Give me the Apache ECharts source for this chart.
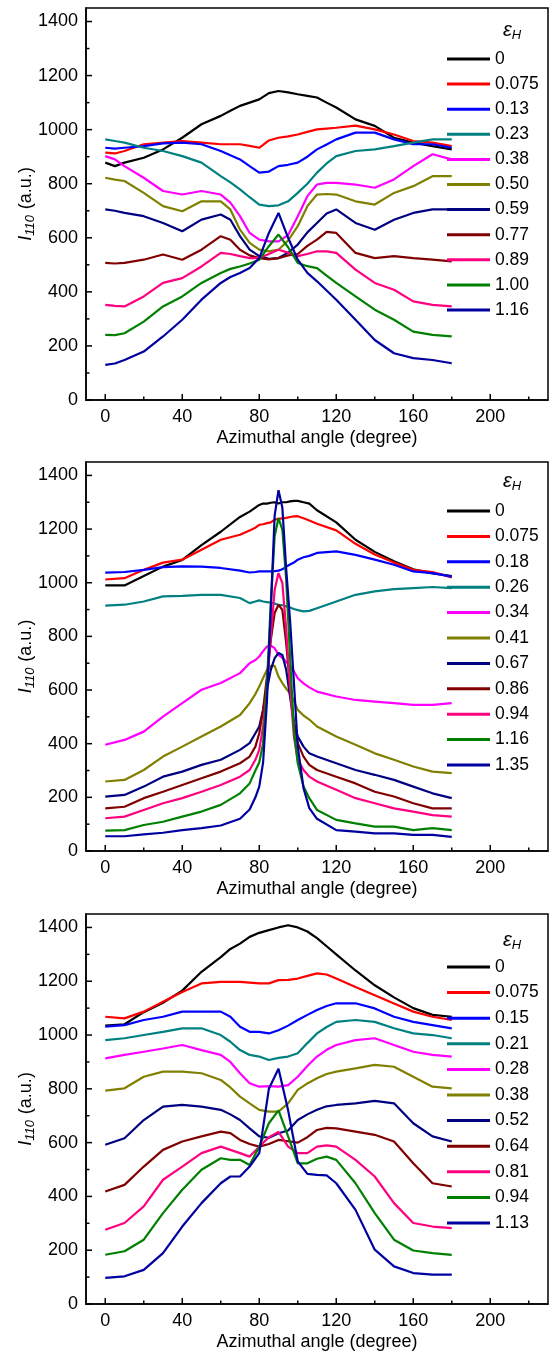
<!DOCTYPE html>
<html><head><meta charset="utf-8">
<script src="https://cdn.jsdelivr.net/npm/echarts@6/dist/echarts.min.js"></script>
<style>html,body{margin:0;padding:0;background:#fff}#c{width:549px;height:1353px}</style>
</head><body><div id="c"></div>
<script>
// ---- tick labels ----
const xTicks = [0, 40, 80, 120, 160, 200];
const xMinor = [20, 60, 100, 140, 180, 220];
const yTicks = [0, 200, 400, 600, 800, 1000, 1200, 1400];
const yMinor = [100, 300, 500, 700, 900, 1100, 1300];
const xName = 'Azimuthal angle (degree)';
const colors = ['#000000','#ff0000','#0000ff','#008080','#ff00ff','#808000','#000080','#800000','#ff0080','#008000','#0000a0'];

// ---- panel 1 ----
const labels1 = ['0','0.075','0.13','0.23','0.38','0.50','0.59','0.77','0.89','1.00','1.16'];
const angles1 = [0,5,10,20,30,40,50,60,65,70,75,80,85,90,95,100,105,110,115,120,130,140,150,160,170,180];
const p1_0    = [878,865,878,896,927,970,1020,1051,1070,1088,1100,1112,1135,1143,1138,1131,1125,1119,1100,1082,1038,1014,970,952,939,927];
const p1_075  = [915,912,921,946,952,958,952,946,946,946,940,933,960,970,975,982,992,1001,1004,1007,1015,1001,982,958,952,939];
const p1_13   = [933,930,933,939,949,952,946,921,905,890,865,841,845,865,870,878,900,927,945,964,989,989,964,946,946,933];
const p1_23   = [964,958,952,933,921,902,878,828,805,779,750,723,717,720,735,766,800,841,875,902,921,927,939,952,964,964];
const p1_38   = [902,890,865,822,773,760,773,760,730,680,618,593,587,587,610,680,754,797,803,803,797,785,816,865,909,890];
const p1_50   = [822,815,810,766,717,698,735,735,705,630,581,556,550,556,590,643,717,760,762,760,735,723,766,791,828,828];
const p1_59   = [705,700,692,680,655,624,667,686,667,606,556,532,522,525,545,575,620,655,690,705,655,630,667,692,705,705];
const p1_77   = [507,505,507,519,538,519,556,606,593,556,535,525,520,525,535,540,570,593,622,618,544,525,532,525,519,513];
const p1_89   = [352,348,346,383,433,451,494,544,540,532,525,525,540,556,545,532,540,550,550,544,482,433,408,365,352,346];
const p1_100  = [241,240,247,290,346,383,433,470,485,494,505,519,569,612,565,507,495,488,460,433,383,334,297,253,241,235];
const p1_116  = [130,135,148,179,235,297,371,433,455,470,488,525,618,692,600,519,470,439,405,371,297,222,173,155,148,136];
const values1 = [p1_0,p1_075,p1_13,p1_23,p1_38,p1_50,p1_59,p1_77,p1_89,p1_100,p1_116];

// ---- panel 2 ----
const labels2 = ['0','0.075','0.18','0.26','0.34','0.41','0.67','0.86','0.94','1.16','1.35'];
const angles2 = [0,10,20,30,40,50,60,70,75,78,80,82,84,86,88,90,92,94,96,98,100,103,106,110,120,130,140,150,160,170,180];
const p2_0    = [990,990,1025,1060,1085,1140,1190,1245,1265,1280,1290,1295,1295,1298,1300,1295,1300,1300,1303,1305,1305,1300,1295,1270,1225,1160,1115,1080,1050,1035,1025];
const p2_075  = [1012,1017,1048,1075,1086,1123,1160,1179,1195,1205,1216,1218,1222,1225,1235,1238,1240,1242,1245,1247,1248,1240,1232,1220,1195,1145,1105,1075,1048,1040,1020];
const p2_18   = [1038,1040,1048,1058,1061,1060,1055,1045,1038,1040,1042,1042,1042,1042,1043,1045,1050,1060,1068,1075,1086,1095,1100,1111,1117,1104,1086,1067,1042,1036,1023];
const p2_26   = [915,918,930,949,951,955,955,943,924,930,934,930,928,926,922,918,916,912,908,902,898,893,895,905,930,955,968,976,980,984,980];
const p2_34   = [396,414,445,501,551,601,626,663,700,712,725,745,762,765,756,731,720,705,690,670,644,625,610,594,576,563,557,551,545,545,551];
const p2_41   = [259,265,302,352,389,427,464,507,551,585,613,645,675,690,690,650,626,605,588,560,526,505,490,464,427,396,364,340,315,296,290];
const p2_67   = [203,209,240,277,296,321,340,377,402,439,464,526,601,675,719,738,731,675,576,477,427,389,364,352,327,302,284,265,240,215,197];
const p2_86   = [159,165,197,221,246,271,296,327,352,389,439,526,651,787,887,918,899,775,613,477,402,352,321,302,277,252,221,203,178,159,159];
const p2_94   = [122,128,153,178,197,221,246,277,302,340,377,464,613,800,974,1036,999,825,613,427,340,302,277,259,228,197,178,159,147,134,128];
const p2_116  = [76,78,97,109,128,147,172,215,252,300,330,400,625,924,1173,1241,1198,1011,725,451,327,240,197,153,116,103,91,91,78,85,78];
const p2_135  = [55,55,62,68,78,85,95,120,155,200,240,330,560,900,1250,1345,1280,1050,860,630,390,234,160,120,78,72,66,66,60,60,53];
const values2 = [p2_0,p2_075,p2_18,p2_26,p2_34,p2_41,p2_67,p2_86,p2_94,p2_116,p2_135];

// ---- panel 3 ----
const labels3 = ['0','0.075','0.15','0.21','0.28','0.38','0.52','0.64','0.81','0.94','1.13'];
const angles3 = [0,10,20,30,40,50,60,65,70,75,80,85,90,95,100,105,110,115,120,130,140,150,160,170,180];
const p3_0    = [1035,1040,1085,1120,1165,1235,1290,1320,1340,1365,1380,1390,1400,1408,1400,1385,1360,1330,1300,1240,1185,1140,1100,1075,1068];
const p3_075  = [1068,1062,1087,1124,1160,1192,1198,1198,1198,1195,1192,1192,1204,1205,1210,1220,1229,1225,1210,1179,1148,1117,1087,1068,1056];
const p3_15   = [1031,1037,1056,1068,1087,1087,1087,1068,1031,1012,1012,1006,1018,1035,1056,1075,1093,1108,1118,1118,1099,1068,1049,1037,1025];
const p3_21   = [981,988,1000,1012,1025,1025,1000,975,944,926,920,907,915,920,932,970,1006,1030,1049,1056,1049,1025,1006,1000,988];
const p3_28   = [913,926,938,950,963,944,926,900,858,821,808,810,808,814,845,885,920,945,963,981,988,963,938,926,920];
const p3_38   = [793,802,845,864,864,858,833,805,771,746,722,715,715,746,796,820,839,855,864,876,889,882,845,808,802];
const p3_52   = [592,616,684,734,740,734,722,705,684,653,623,618,635,645,684,705,722,735,740,746,755,746,672,623,604];
const p3_64   = [418,443,511,573,604,623,641,635,610,595,585,595,610,605,600,620,647,655,653,641,629,604,523,449,437];
const p3_81   = [276,301,363,462,511,561,585,573,561,548,585,620,640,585,561,561,585,590,585,536,474,375,301,288,282];
const p3_94   = [183,196,239,338,425,499,542,536,536,517,585,672,720,623,523,523,540,548,536,449,338,239,199,189,183];
const p3_113  = [97,103,127,189,288,375,449,474,474,511,561,800,875,720,530,484,480,478,449,350,202,140,115,109,109];
const values3 = [p3_0,p3_075,p3_15,p3_21,p3_28,p3_38,p3_52,p3_64,p3_81,p3_94,p3_113];

const panels = [
  {labels: labels1, angles: angles1, values: values1, top: 8,   height: 392, legendTop: 49,  gap: 5.1, titleTop: 19},
  {labels: labels2, angles: angles2, values: values2, top: 462, height: 389, legendTop: 501, gap: 5.4, titleTop: 470},
  {labels: labels3, angles: angles3, values: values3, top: 914, height: 390, legendTop: 957, gap: 5.6, titleTop: 929}
];

const FONT = "'Liberation Sans', Arial, sans-serif";
const black = '#000';
const X_MIN = -10, X_MAX = 230, Y_MIN = 0, Y_MAX = 1450;
const grids = [], xAxes = [], yAxes = [], series = [], legends = [], titles = [];

// inward tick marks drawn through the axis scales (api.coord)
function tickSeries(k, vals, dir, len) {
  return {type: 'custom', coordinateSystem: 'cartesian2d', xAxisIndex: k, yAxisIndex: k,
    silent: true, z: 10, clip: false, encode: {x: 0, y: 1},
    data: vals.map(v => dir === 'x' ? [v, Y_MIN] : [X_MIN, v]),
    renderItem: (params, api) => {
      const pt = api.coord([api.value(0), api.value(1)]);
      const shape = dir === 'x'
        ? {x1: pt[0], y1: pt[1], x2: pt[0], y2: pt[1] - len}
        : {x1: pt[0], y1: pt[1], x2: pt[0] + len, y2: pt[1]};
      return {type: 'line', shape: shape, style: {stroke: black, lineWidth: 1.5}};
    }};
}

panels.forEach((p, k) => {
  grids.push({left: 86, right: 1, top: p.top, height: p.height, show: true,
    borderColor: black, borderWidth: 1.5, backgroundColor: 'transparent',
    containLabel: false, outerBoundsMode: 'none'});
  xAxes.push({type: 'value', gridIndex: k, min: X_MIN, max: X_MAX, position: 'bottom',
    axisLine: {show: true, onZero: false, lineStyle: {color: black, width: 1.5}},
    axisTick: {show: false},
    axisLabel: {show: true, customValues: xTicks, color: black, fontSize: 18, fontFamily: FONT, margin: 8,
      formatter: v => String(v)},
    splitLine: {show: false},
    name: xName, nameLocation: 'middle', nameGap: 29, nameMoveOverlap: false,
    nameTextStyle: {color: black, fontSize: 18, fontFamily: FONT}});
  yAxes.push({type: 'value', gridIndex: k, min: Y_MIN, max: Y_MAX, position: 'left',
    axisLine: {show: true, onZero: false, lineStyle: {color: black, width: 1.5}},
    axisTick: {show: false},
    axisLabel: {show: true, customValues: yTicks, color: black, fontSize: 18, fontFamily: FONT, margin: 8,
      formatter: v => String(v)},
    splitLine: {show: false},
    name: '{i|I}{s|110} (a.u.)', nameLocation: 'middle', nameGap: 49, nameMoveOverlap: false,
    nameTextStyle: {color: black, fontSize: 18, fontFamily: FONT,
      rich: {i: {fontStyle: 'italic', fontSize: 18, fontFamily: FONT, color: black},
             s: {fontStyle: 'italic', fontSize: 13, fontFamily: FONT, color: black, padding: [9, 1, 0, 0]}}}});

  series.push(tickSeries(k, xTicks, 'x', 6));
  series.push(tickSeries(k, xMinor, 'x', 3.5));
  series.push(tickSeries(k, yTicks, 'y', 6));
  series.push(tickSeries(k, yMinor, 'y', 3.5));

  const names = [];
  p.labels.forEach((lab, i) => {
    const nm = 'p' + (k + 1) + '|' + lab;
    names.push(nm);
    series.push({type: 'line', name: nm, xAxisIndex: k, yAxisIndex: k,
      symbol: 'none', showSymbol: false, silent: true, color: colors[i],
      lineStyle: {color: colors[i], width: 2.2},
      data: p.angles.map((a, j) => [a, p.values[i][j]])});
  });
  legends.push({orient: 'vertical', left: 447, top: p.legendTop, padding: 0,
    icon: 'rect', itemWidth: 43, itemHeight: 3, itemGap: p.gap, data: names,
    formatter: n => n.split('|')[1], selectedMode: false,
    textStyle: {color: black, fontSize: 17.5, fontFamily: FONT, lineHeight: 20}});
  titles.push({text: '{e|ε}{h|H}', left: 503, top: p.titleTop, padding: 0,
    textStyle: {fontWeight: 'normal', rich: {
      e: {fontStyle: 'italic', fontWeight: 'normal', fontSize: 20, fontFamily: FONT, color: black},
      h: {fontStyle: 'italic', fontWeight: 'normal', fontSize: 13, fontFamily: FONT, color: black, padding: [10, 0, 0, 0]}}}});
});

const chart = echarts.init(document.getElementById('c'), null, {renderer: 'canvas'});
chart.setOption({animation: false, backgroundColor: '#fff',
  title: titles, grid: grids, xAxis: xAxes, yAxis: yAxes, legend: legends, series: series});
</script></body></html>
